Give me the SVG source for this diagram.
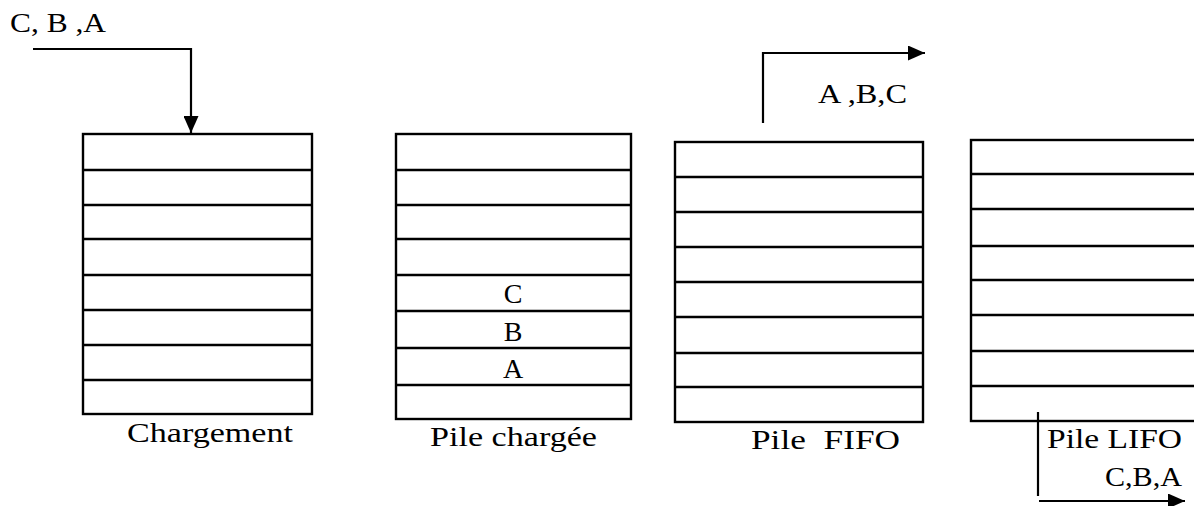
<svg xmlns="http://www.w3.org/2000/svg" width="1194" height="506" viewBox="0 0 1194 506">
  <style>
    .cell { fill: #ffffff; stroke: #000000; stroke-width: 2.4; }
    .row { stroke: #000000; stroke-width: 2.4; }
    .wire { fill: none; stroke: #000000; stroke-width: 2.2; }
    .lbl { font-family: "Liberation Serif", "Times New Roman", serif; font-size: 28px; fill: #000000; }
  </style>
  <defs>
    <marker id="arrow" viewBox="0 0 17 15" refX="17" refY="7.5" markerWidth="17" markerHeight="15" markerUnits="userSpaceOnUse" orient="auto">
      <path d="M0,0 L17,7.5 L0,15 Z" fill="#000000"/>
    </marker>
  </defs>
  <rect width="1194" height="506" fill="#ffffff"/>

  <!-- Loading stack -->
  <g id="chargement">
    <rect class="cell" x="83" y="134" width="229" height="280"/>
    <line class="row" x1="83" y1="170" x2="312" y2="170"/>
    <line class="row" x1="83" y1="205" x2="312" y2="205"/>
    <line class="row" x1="83" y1="239" x2="312" y2="239"/>
    <line class="row" x1="83" y1="275" x2="312" y2="275"/>
    <line class="row" x1="83" y1="310" x2="312" y2="310"/>
    <line class="row" x1="83" y1="345" x2="312" y2="345"/>
    <line class="row" x1="83" y1="380" x2="312" y2="380"/>
    <text class="lbl" x="127" y="442" textLength="166" lengthAdjust="spacingAndGlyphs">Chargement</text>
  </g>

  <!-- Loaded stack -->
  <g id="pile-chargee">
    <rect class="cell" x="396" y="134" width="235" height="285"/>
    <line class="row" x1="396" y1="170" x2="631" y2="170"/>
    <line class="row" x1="396" y1="205" x2="631" y2="205"/>
    <line class="row" x1="396" y1="239" x2="631" y2="239"/>
    <line class="row" x1="396" y1="275" x2="631" y2="275"/>
    <line class="row" x1="396" y1="311" x2="631" y2="311"/>
    <line class="row" x1="396" y1="348" x2="631" y2="348"/>
    <line class="row" x1="396" y1="385" x2="631" y2="385"/>
    <text class="lbl" x="513" y="303" text-anchor="middle">C</text>
    <text class="lbl" x="513" y="341" text-anchor="middle">B</text>
    <text class="lbl" x="513" y="378" text-anchor="middle">A</text>
    <text class="lbl" x="430" y="446" textLength="167" lengthAdjust="spacingAndGlyphs">Pile chargée</text>
  </g>

  <!-- FIFO stack -->
  <g id="pile-fifo">
    <rect class="cell" x="675" y="142" width="248" height="280"/>
    <line class="row" x1="675" y1="177" x2="923" y2="177"/>
    <line class="row" x1="675" y1="212" x2="923" y2="212"/>
    <line class="row" x1="675" y1="247" x2="923" y2="247"/>
    <line class="row" x1="675" y1="282" x2="923" y2="282"/>
    <line class="row" x1="675" y1="317" x2="923" y2="317"/>
    <line class="row" x1="675" y1="353" x2="923" y2="353"/>
    <line class="row" x1="675" y1="387" x2="923" y2="387"/>
    <text class="lbl" x="751" y="449" textLength="149" lengthAdjust="spacingAndGlyphs" xml:space="preserve">Pile  FIFO</text>
  </g>

  <!-- LIFO stack -->
  <g id="pile-lifo">
    <rect class="cell" x="971" y="140" width="240" height="281"/>
    <line class="row" x1="971" y1="174" x2="1211" y2="174"/>
    <line class="row" x1="971" y1="209" x2="1211" y2="209"/>
    <line class="row" x1="971" y1="246" x2="1211" y2="246"/>
    <line class="row" x1="971" y1="280" x2="1211" y2="280"/>
    <line class="row" x1="971" y1="315" x2="1211" y2="315"/>
    <line class="row" x1="971" y1="351" x2="1211" y2="351"/>
    <line class="row" x1="971" y1="386" x2="1211" y2="386"/>
    <text class="lbl" x="1047" y="448" textLength="135" lengthAdjust="spacingAndGlyphs">Pile LIFO</text>
  </g>

  <!-- Flow labels -->
  <g id="flow-labels">
    <text class="lbl" x="10" y="32" textLength="96" lengthAdjust="spacingAndGlyphs">C, B ,A</text>
    <text class="lbl" x="818" y="103" textLength="89" lengthAdjust="spacingAndGlyphs">A ,B,C</text>
    <text class="lbl" x="1105" y="486" textLength="77" lengthAdjust="spacingAndGlyphs">C,B,A</text>
  </g>

  <!-- Connectors -->
  <g id="connectors">
    <path class="wire" d="M33,49 H191 V133" marker-end="url(#arrow)"/>
    <path class="wire" d="M763,123 V53 H925" marker-end="url(#arrow)"/>
    <line class="wire" x1="1038" y1="412" x2="1038" y2="496"/>
    <line class="wire" x1="1039" y1="501" x2="1185" y2="501" marker-end="url(#arrow)"/>
  </g>
</svg>
